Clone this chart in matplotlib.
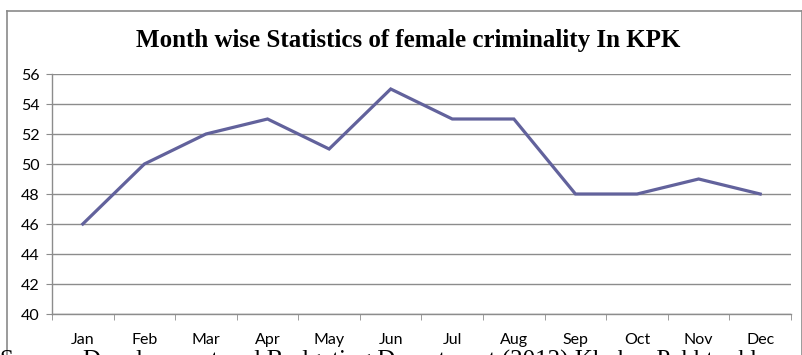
import numpy as np
import matplotlib.pyplot as plt
from matplotlib.lines import Line2D

# data
months = ['Jan', 'Feb', 'Mar', 'Apr', 'May', 'Jun',
          'Jul', 'Aug', 'Sep', 'Oct', 'Nov', 'Dec']
cases = [46, 50, 52, 53, 51, 55, 53, 53, 48, 48, 49, 48]
y_ticks = [40, 42, 44, 46, 48, 50, 52, 54, 56]

title = 'Month wise Statistics of female criminality In KPK'
source = 'Source: Development and Budgeting Department (2012) Khyber Pakhtunkhwa'

W, H = 803, 355
fig = plt.figure(figsize=(W / 100, H / 100), dpi=100)

# plot area in pixels
left, right, top, bottom = 52, 791, 74, 314
ax = fig.add_axes([left / W, 1 - bottom / H, (right - left) / W, (bottom - top) / H])

x = np.arange(len(months))
ax.plot(x, cases, color='#62629c', linewidth=2.3, solid_joinstyle='miter', zorder=3)

ax.set_xlim(-0.5, len(months) - 0.5)
ax.set_ylim(y_ticks[0], y_ticks[-1])
ax.set_yticks(y_ticks)
ax.set_xticks(x)
ax.set_xticklabels(months)
ax.set_xticks(np.arange(len(months) + 1) - 0.5, minor=True)
ax.yaxis.grid(True, color='#8c8c8c', linewidth=1.0)
ax.set_axisbelow(True)

for s in ['top', 'right']:
    ax.spines[s].set_visible(False)
for s in ['left', 'bottom']:
    ax.spines[s].set_color('#8c8c8c')
    ax.spines[s].set_linewidth(1.0)

ax.tick_params(axis='x', which='major', length=0, pad=14, labelsize=11.5)
ax.tick_params(axis='x', which='minor', length=4, color='#8c8c8c')
ax.tick_params(axis='y', length=4, color='#8c8c8c', pad=5, labelsize=11.5)
for lab in ax.get_xticklabels() + ax.get_yticklabels():
    lab.set_fontfamily('Lato')

fig.text(408 / W, 1 - 40 / H, title, ha='center', va='center',
         fontsize=18, fontweight='bold', family='Liberation Serif')

# outer chart frame (runs off the bottom of the image)
fx0, fx1, fy0 = 7.5 / W, 802 / W, 1 - 10.5 / H
frame_color = '#8a8a8a'
fig.add_artist(Line2D([fx0, fx1], [fy0, fy0], color=frame_color, lw=1.2))
fig.add_artist(Line2D([fx0, fx0], [fy0, -0.1], color=frame_color, lw=1.2))
fig.add_artist(Line2D([fx1, fx1], [fy0, -0.1], color=frame_color, lw=1.2))

# caption below the chart, mostly cut off by the image edge
fig.text(0, 1 - 350 / H, source, ha='left', va='top',
         fontsize=18, family='Liberation Serif')

fig.savefig('out.png', dpi=100)
